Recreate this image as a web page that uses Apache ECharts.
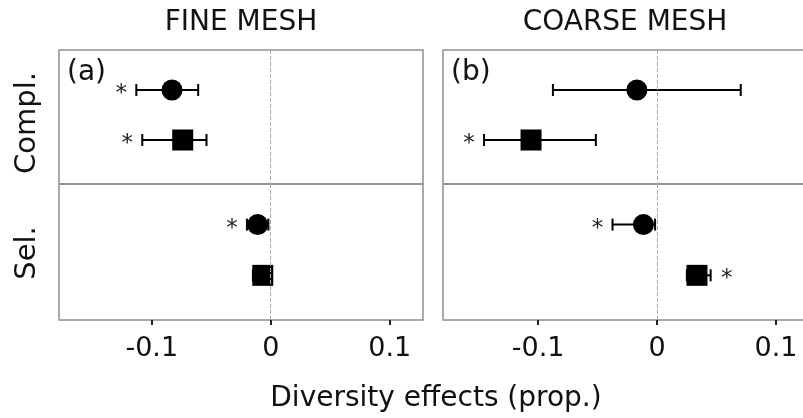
<!DOCTYPE html>
<html><head><meta charset="utf-8">
<script src="https://cdn.jsdelivr.net/npm/echarts@6/dist/echarts.min.js"></script>
<style>html,body{margin:0;padding:0;background:#fff}#c{width:803px;height:418px}</style>
</head><body><div id="c"></div>
<script>
// ---- data ----
const panels = ['FINE MESH', 'COARSE MESH'];
const panelTags = ['(a)', '(b)'];
const effects = ['Compl.', 'Sel.'];
const markerShapes = ['circle', 'square'];
const xTicks = [-0.1, 0, 0.1];
const xTitle = 'Diversity effects (prop.)';

// fine mesh
const fineComplMean = [-0.083, -0.074];
const fineComplLow  = [-0.113, -0.108];
const fineComplHigh = [-0.061, -0.054];
const fineComplSig  = [true, true];
const fineSelMean = [-0.011, -0.0067];
const fineSelLow  = [-0.020, -0.015];
const fineSelHigh = [-0.002, 0.000];
const fineSelSig  = [true, false];
// coarse mesh
const coarseComplMean = [-0.017, -0.106];
const coarseComplLow  = [-0.0876, -0.1455];
const coarseComplHigh = [0.0703, -0.0515];
const coarseComplSig  = [false, true];
const coarseSelMean = [-0.0115, 0.0335];
const coarseSelLow  = [-0.0375, 0.025];
const coarseSelHigh = [-0.0017, 0.045];
const coarseSelSig  = [true, true];

// ---- layout ----
const FONT = '"DejaVu Sans", sans-serif';
const cells = [
  {panel: 0, eff: 0, mean: fineComplMean, low: fineComplLow, high: fineComplHigh, sig: fineComplSig},
  {panel: 0, eff: 1, mean: fineSelMean, low: fineSelLow, high: fineSelHigh, sig: fineSelSig},
  {panel: 1, eff: 0, mean: coarseComplMean, low: coarseComplLow, high: coarseComplHigh, sig: coarseComplSig},
  {panel: 1, eff: 1, mean: coarseSelMean, low: coarseSelLow, high: coarseSelHigh, sig: coarseSelSig}
];
const panelLeft = [59, 443];
const panelWidth = 364;
const panelRange = [[-0.178, 0.128], [-0.18, 0.126]];
const rowTop = [50, 184];
const rowHeight = [134, 136];
const rowLabelY = [123, 253];

const grids = [], xAxes = [], yAxes = [], series = [];
cells.forEach((c, gi) => {
  grids.push({left: panelLeft[c.panel], top: rowTop[c.eff], width: panelWidth, height: rowHeight[c.eff],
    show: true, borderColor: '#8f8f8f', borderWidth: 1.5, containLabel: false, outerBoundsMode: 'none'});
  const bottom = c.eff === 1;
  xAxes.push({type: 'value', gridIndex: gi, position: 'bottom', min: panelRange[c.panel][0], max: panelRange[c.panel][1],
    axisLine: {show: false, onZero: false}, splitLine: {show: false},
    axisTick: {show: bottom, customValues: xTicks, length: 5, lineStyle: {color: '#222', width: 2}},
    axisLabel: {show: bottom, customValues: xTicks, fontSize: 27, fontFamily: FONT, color: '#111', margin: 15,
      formatter: v => String(v)}
  });
  yAxes.push({type: 'value', gridIndex: gi, inverse: true, min: -0.8, max: 1.88, show: false,
    splitLine: {show: false}});
  const barData = c.mean.map((m, i) => [m, i, c.low[i], c.high[i], c.sig[i] ? 1 : 0]);
  series.push({
    type: 'custom', xAxisIndex: gi, yAxisIndex: gi, z: 2, silent: true,
    data: barData,
    renderItem: (params, api) => {
      const m = api.value(0), i = api.value(1), lo = api.value(2), hi = api.value(3), s = api.value(4);
      const p1 = api.coord([lo, i]), p2 = api.coord([hi, i]);
      const cap = 6;
      const st = {stroke: '#000', lineWidth: 2};
      const children = [
        {type: 'line', shape: {x1: p1[0], y1: p1[1], x2: p2[0], y2: p2[1]}, style: st},
        {type: 'line', shape: {x1: p1[0], y1: p1[1] - cap, x2: p1[0], y2: p1[1] + cap}, style: st},
        {type: 'line', shape: {x1: p2[0], y1: p2[1] - cap, x2: p2[0], y2: p2[1] + cap}, style: st}
      ];
      if (s) {
        const ax = m < 0 ? p1[0] - 15 : p2[0] + 16;
        children.push({type: 'text', x: ax, y: p1[1] + 4,
          style: {text: '*', fontSize: 23, fontFamily: FONT, fill: '#222', align: 'center', verticalAlign: 'middle'}});
      }
      return {type: 'group', children};
    },
    markLine: {silent: true, symbol: 'none', label: {show: false},
      lineStyle: {color: '#a8a8a8', width: 1, type: [4, 2]},
      data: [{xAxis: 0}]}
  });
  markerShapes.forEach((shape, i) => {
    series.push({type: 'scatter', name: shape, xAxisIndex: gi, yAxisIndex: gi, z: 3, silent: true,
      symbol: shape === 'circle' ? 'circle' : 'rect', symbolSize: 21,
      itemStyle: {color: '#000', opacity: 1},
      data: [[c.mean[i], i]]});
  });
});

const graphics = [];
panels.forEach((t, p) => {
  const cx = panelLeft[p] + panelWidth / 2;
  graphics.push({type: 'text', x: cx, y: 23, style: {text: t, fontSize: 28, fontFamily: FONT, fill: '#111', align: 'center', verticalAlign: 'middle'}});
  graphics.push({type: 'text', x: panelLeft[p] + 8, y: 73, style: {text: panelTags[p], fontSize: 28, fontFamily: FONT, fill: '#111', align: 'left', verticalAlign: 'middle'}});
});
effects.forEach((t, e) => {
  graphics.push({type: 'text', x: 27, y: rowLabelY[e], rotation: Math.PI / 2,
    style: {text: t, fontSize: 29, fontFamily: FONT, fill: '#111', align: 'center', verticalAlign: 'middle'}});
});
graphics.push({type: 'text', x: 436, y: 399, style: {text: xTitle, fontSize: 28, fontFamily: FONT, fill: '#111', align: 'center', verticalAlign: 'middle'}});

const chart = echarts.init(document.getElementById('c'), null, {renderer: 'canvas'});
chart.setOption({
  animation: false,
  backgroundColor: '#fff',
  grid: grids, xAxis: xAxes, yAxis: yAxes, series,
  graphic: graphics
});
</script></body></html>
